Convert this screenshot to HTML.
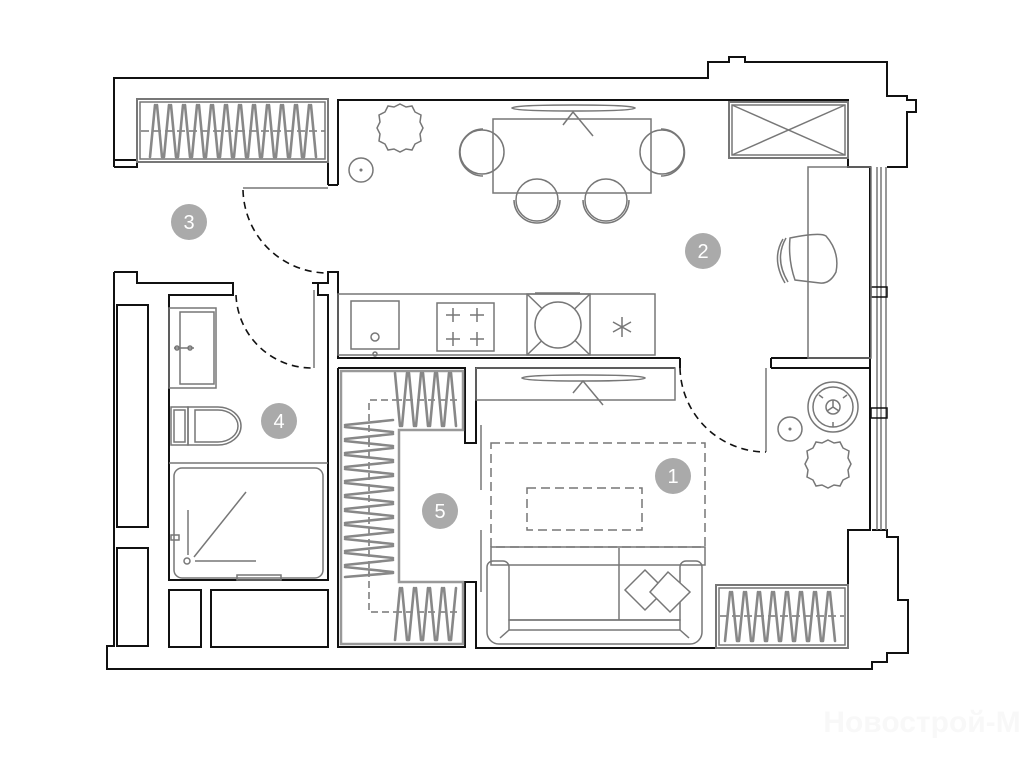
<!DOCTYPE html>
<html><head><meta charset="utf-8"><style>
html,body{margin:0;padding:0;background:#fff}
svg{display:block}
text{font-family:"Liberation Sans",sans-serif}
</style></head><body>
<svg width="1024" height="768" viewBox="0 0 1024 768" xmlns="http://www.w3.org/2000/svg">
<g fill="none" stroke="#111" stroke-width="2">
<polyline points="114,167 114,78 708,78 708,62 729,62 729,57 745,57 745,62 887,62 887,96 907,96 907,100 916,100 916,112 907,112 907,167 887,167"/>
<polyline points="114,272 114,646 107,646 107,669 872,669 872,662 887,662 887,653 908,653 908,600 898,600 898,537 887,537 887,530 872,530"/>
<polyline points="114,160 137,160 137,167 114,167"/>
<polyline points="338,185 338,100 848,100 848,167 871,167"/>
<polyline points="328,185 328,162"/>
<line x1="328" y1="185" x2="338" y2="185"/>
<polyline points="114,272 137,272 137,283 233,283 233,295 169,295 169,580 328,580 328,295 318,295 318,283 328,283 328,272 338,272 338,358 680,358"/>
<line x1="312" y1="283" x2="318" y2="283"/>
<polyline points="338,368 338,647 465,647 465,582 476,582 476,648 848,648 848,530 870,530 870,168"/>
<polyline points="338,368 465,368 465,443 476,443 476,368 675,368"/>
<polyline points="771,358 871,358"/>
<polyline points="771,368 871,368"/>
<line x1="771" y1="358" x2="771" y2="368"/>
<line x1="680" y1="358" x2="680" y2="368"/>
<rect x="117" y="305" width="31" height="222"/>
<rect x="117" y="548" width="31" height="98"/>
<rect x="169" y="590" width="32" height="57"/>
<rect x="211" y="590" width="117" height="57"/>
</g>
<g fill="none" stroke="#777" stroke-width="1.5">
<line x1="877" y1="167" x2="877" y2="530"/><line x1="881" y1="167" x2="881" y2="530"/><line x1="886" y1="167" x2="886" y2="530"/>
<rect x="871" y="287" width="16" height="10" stroke="#111"/>
<rect x="871" y="408" width="16" height="10" stroke="#111"/>
<line x1="243" y1="188" x2="328" y2="188"/>
<line x1="314" y1="290" x2="314" y2="368"/>
<line x1="766" y1="368" x2="766" y2="452"/>
<rect x="137" y="99" width="191" height="63" stroke-width="2"/>
<rect x="140" y="102" width="185" height="57"/>
<line x1="141" y1="131" x2="325" y2="131" stroke-dasharray="8,4"/>
<rect x="729" y="102" width="119" height="56" stroke-width="2"/>
<rect x="732" y="105" width="113" height="50"/>
<line x1="732" y1="105" x2="845" y2="155"/><line x1="732" y1="155" x2="845" y2="105"/>
<rect x="493" y="119" width="158" height="74"/>
<path d="M512,108 Q515,105 574,105 Q632,105 635,108 Q632,111 574,111 Q515,111 512,108Z"/>
<polyline points="563,125 573,112 593,136"/>
<circle cx="482" cy="152" r="22"/><path d="M483,129 A23,23 0 0 0 483,176"/>
<circle cx="662" cy="152" r="22"/><path d="M661,129 A23,23 0 0 1 661,176"/>
<circle cx="537" cy="200" r="21"/><path d="M514,200 A23,23 0 0 0 560,200"/>
<circle cx="606" cy="200" r="21"/><path d="M583,200 A23,23 0 0 0 629,200"/>
<path d="M400,104 l6,3 6,-1 3,6 6,3 -1,7 3,6 -3,6 1,7 -6,3 -3,6 -6,-1 -6,3 -6,-3 -6,1 -3,-6 -6,-3 1,-7 -3,-6 3,-6 -1,-7 6,-3 3,-6 6,1z"/>
<circle cx="361" cy="170" r="12"/><circle cx="361" cy="170" r="0.8" fill="#777"/>
<rect x="808" y="167" width="63" height="191"/>
<path d="M790,238 Q820,232 826,236 Q840,252 836,272 Q830,284 820,283 L795,280 Q788,260 790,238Z"/>
<path d="M786,238 Q774,259 788,282"/><path d="M783,239 Q771,259 785,283"/>
<rect x="338" y="294" width="317" height="61"/>
<rect x="351" y="301" width="48" height="48"/><circle cx="375" cy="337" r="4"/><circle cx="375" cy="354" r="2"/>
<rect x="437" y="303" width="57" height="48"/>
<path d="M446,315h14M453,308v14M470,315h14M477,308v14M446,339h14M453,332v14M470,339h14M477,332v14"/>
<rect x="527" y="294" width="63" height="61"/>
<line x1="527" y1="294" x2="590" y2="355"/><line x1="590" y1="294" x2="527" y2="355"/>
<circle cx="558" cy="325" r="23" fill="#fff"/>
<line x1="535" y1="293" x2="580" y2="293"/>
<path d="M622,317v20M613,322l18,10M631,322l-18,10"/>
<rect x="169" y="308" width="47" height="80"/><rect x="180" y="312" width="34" height="72"/>
<path d="M174,348h20"/><circle cx="177" cy="348" r="2"/><circle cx="190" cy="348" r="2"/>
<rect x="171" y="407" width="17" height="38"/><rect x="174" y="410" width="11" height="32"/>
<path d="M188,407h30a23,19 0 0 1 0,38h-30z"/><path d="M195,410h23a20,16 0 0 1 0,32h-23z"/>
<line x1="169" y1="463" x2="328" y2="463"/>
<rect x="174" y="468" width="149" height="110" rx="8"/>
<line x1="188" y1="510" x2="188" y2="555"/><line x1="194" y1="557" x2="246" y2="492"/><line x1="195" y1="561" x2="256" y2="561"/>
<circle cx="187" cy="561" r="3"/>
<rect x="171" y="535" width="8" height="5"/>
<rect x="237" y="575" width="44" height="5"/>
<path d="M341,371H463V430H399V582H463V644H341Z" stroke-width="2.5" stroke="#999"/>
<polyline points="369,443 369,400 395,400" stroke-dasharray="7,4"/>
<polyline points="369,570 369,612 395,612" stroke-dasharray="7,4"/>
<line x1="395" y1="400" x2="460" y2="400" stroke-dasharray="7,4"/>
<line x1="395" y1="612" x2="460" y2="612" stroke-dasharray="7,4"/>
<line x1="369" y1="440" x2="369" y2="575" stroke-dasharray="7,4"/>
<rect x="476" y="368" width="199" height="32"/>
<path d="M522,378 Q525,375 583,375 Q642,375 645,378 Q642,381 583,381 Q525,381 522,378Z"/>
<polyline points="573,393 583,381 603,405"/>
<line x1="481" y1="425" x2="481" y2="490"/><line x1="481" y1="530" x2="481" y2="592"/>
<rect x="491" y="443" width="214" height="104" stroke-dasharray="9,5"/>
<rect x="527" y="488" width="115" height="42" stroke-dasharray="9,5"/>
<rect x="491" y="547" width="214" height="18"/>
<path d="M487,567 a6,6 0 0 1 6,-6h10a6,6 0 0 1 6,6V620H680V567a6,6 0 0 1 6,-6h10a6,6 0 0 1 6,6v65a12,12 0 0 1 -12,12H499a12,12 0 0 1 -12,-12z"/>
<rect x="509" y="620" width="171" height="10"/>
<line x1="619" y1="548" x2="619" y2="620"/>
<line x1="509" y1="630" x2="500" y2="638"/><line x1="680" y1="630" x2="689" y2="638"/>
<path d="M625,590 L645,570 L665,590 L645,610Z" fill="#fff"/>
<path d="M650,592 L668,572 L690,592 L670,612Z" fill="#fff"/>
<circle cx="833" cy="407" r="25"/><circle cx="833" cy="407" r="20"/><circle cx="833" cy="407" r="7"/>
<path d="M833,407v-7M833,407l6,4M833,407l-6,4M819,395l4,3M847,395l-4,3M833,422v5"/>
<circle cx="790" cy="429" r="12"/><circle cx="790" cy="429" r="0.8" fill="#777"/>
<path d="M828,440 l6,3 6,-1 3,6 6,3 -1,7 3,6 -3,6 1,7 -6,3 -3,6 -6,-1 -6,3 -6,-3 -6,1 -3,-6 -6,-3 1,-7 -3,-6 3,-6 -1,-7 6,-3 3,-6 6,1z"/>
<rect x="716" y="585" width="132" height="63" stroke-width="2"/>
<rect x="719" y="588" width="126" height="57"/>
<line x1="720" y1="616" x2="844" y2="616" stroke-dasharray="8,4"/>
</g>
<g fill="none" stroke="#111" stroke-width="1.6" stroke-dasharray="7,5">
<path d="M243,190 A85,85 0 0 0 326,273"/>
<path d="M236,295 A76,76 0 0 0 312,368"/>
<path d="M680,368 A86,86 0 0 0 766,452"/>
</g>
<g stroke="#888" stroke-width="2.6" stroke-linecap="round">
<path d="M150,157L155,105M157,105L162,157M164,157L169,105M171,105L176,157M178,157L183,105M185,105L190,157M192,157L197,105M199,105L204,157M206,157L211,105M213,105L218,157M220,157L225,105M227,105L232,157M234,157L239,105M241,105L246,157M248,157L253,105M255,105L260,157M262,157L267,105M269,105L274,157M276,157L281,105M283,105L288,157M290,157L295,105M297,105L302,157M304,157L309,105M311,105L316,157"/>
<path d="M725,641L730,592M732,592L737,641M739,641L744,592M746,592L751,641M753,641L758,592M760,592L765,641M767,641L772,592M774,592L779,641M781,641L786,592M788,592L793,641M795,641L800,592M802,592L807,641M809,641L814,592M816,592L821,641M823,641L828,592M830,592L835,641"/>
<path d="M395,373L400,426M402,426L407,373M409,373L414,426M416,426L421,373M423,373L428,426M430,426L435,373M437,373L442,426M444,426L449,373M451,373L456,426"/>
<path d="M395,640L400,588M402,588L407,640M409,640L414,588M416,588L421,640M423,640L428,588M430,588L435,640M437,640L442,588M444,588L449,640M451,640L456,588"/>
<path d="M345,425L393,420M345,427L393,432M345,439L393,434M345,441L393,446M345,453L393,448M345,455L393,460M345,467L393,462M345,469L393,474M345,481L393,476M345,483L393,488M345,495L393,490M345,497L393,502M345,509L393,504M345,511L393,516M345,523L393,518M345,525L393,530M345,537L393,532M345,539L393,544M345,551L393,546M345,553L393,558M345,565L393,560M345,567L393,572M345,577L393,573"/>
</g>
<g fill="#aaa"><circle cx="189" cy="222" r="18"/><circle cx="703" cy="251" r="18"/><circle cx="279" cy="421" r="18"/><circle cx="440" cy="511" r="18"/><circle cx="673" cy="476" r="18"/></g>
<g fill="#fff" font-size="20" text-anchor="middle">
<text x="189" y="229">3</text><text x="703" y="258">2</text><text x="279" y="428">4</text><text x="440" y="518">5</text><text x="673" y="483">1</text>
</g>
<text x="922" y="732" font-size="30" font-weight="bold" fill="#f8f8f8" text-anchor="middle">Новострой-М</text>
</svg>
</body></html>
